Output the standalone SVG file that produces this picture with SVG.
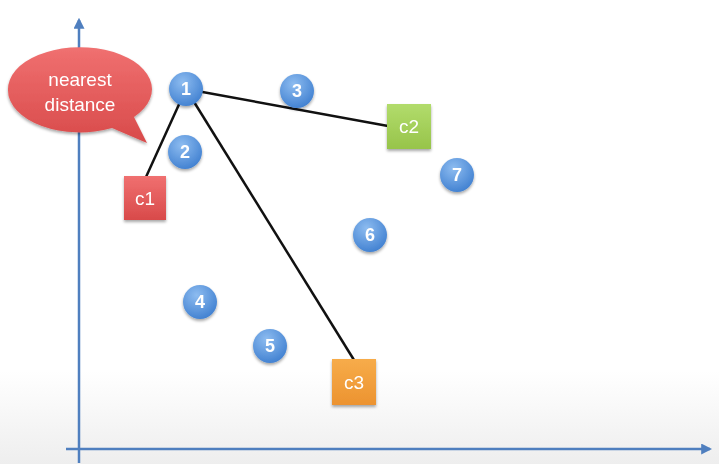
<svg xmlns="http://www.w3.org/2000/svg" width="719" height="464" viewBox="0 0 719 464">
<defs>
<linearGradient id="bg" x1="0" y1="0" x2="0" y2="1">
<stop offset="0.8" stop-color="#ffffff"/>
<stop offset="1" stop-color="#eeeeee"/>
</linearGradient>
<radialGradient id="ball" cx="0.4" cy="0.3" r="0.75">
<stop offset="0" stop-color="#8dbcf0"/>
<stop offset="1" stop-color="#3f7fd0"/>
</radialGradient>
<linearGradient id="red" x1="0" y1="0" x2="0" y2="1">
<stop offset="0" stop-color="#f07070"/>
<stop offset="1" stop-color="#d84a4a"/>
</linearGradient>
<linearGradient id="green" x1="0" y1="0" x2="0" y2="1">
<stop offset="0" stop-color="#b2dc6c"/>
<stop offset="1" stop-color="#97c44a"/>
</linearGradient>
<linearGradient id="orange" x1="0" y1="0" x2="0" y2="1">
<stop offset="0" stop-color="#f7ac4a"/>
<stop offset="1" stop-color="#ec9330"/>
</linearGradient>
<filter id="sh" x="-30%" y="-30%" width="160%" height="160%">
<feGaussianBlur in="SourceAlpha" stdDeviation="1.5"/>
<feOffset dx="0" dy="2" result="b"/>
<feComponentTransfer><feFuncA type="linear" slope="0.35"/></feComponentTransfer>
<feMerge><feMergeNode/><feMergeNode in="SourceGraphic"/></feMerge>
</filter>
<marker id="arr" viewBox="0 0 10 10" refX="8" refY="5" markerWidth="4.4" markerHeight="4.4" orient="auto">
<path d="M0,0 L10,5 L0,10 Z" fill="#4f7fbf"/>
</marker>
</defs>
<style>
.axis{stroke:#4f7fbf;stroke-width:2.5;fill:none}
.conn{stroke:#111;stroke-width:2.5;fill:none}
.num{font-family:"Liberation Sans",Arial,sans-serif;font-size:18px;font-weight:bold;fill:#fff;text-anchor:middle}
.lbl{font-family:"Liberation Sans",Arial,sans-serif;font-size:19px;fill:#fff;text-anchor:middle}
</style>
<rect width="719" height="464" fill="url(#bg)"/>
<g id="axes">
<line class="axis" x1="79" y1="463" x2="79" y2="20" marker-end="url(#arr)"/>
<line class="axis" x1="66" y1="449" x2="710" y2="449" marker-end="url(#arr)"/>
</g>
<g id="callout" filter="url(#sh)">
<path d="M8,90 A72,42 0 1 1 134,117 L147,143 L112,128 A72,42 0 0 1 8,90 Z" fill="url(#red)"/>
<text class="lbl" x="80" y="86">nearest</text>
<text class="lbl" x="80" y="111">distance</text>
</g>
<g id="connectors">
<line class="conn" x1="186" y1="89" x2="388" y2="126"/>
<line class="conn" x1="186" y1="89" x2="146" y2="177"/>
<line class="conn" x1="186" y1="89" x2="354" y2="360"/>
</g>
<g id="c1" filter="url(#sh)">
<rect x="124" y="176" width="42" height="44" fill="url(#red)"/>
<text class="lbl" x="145" y="205">c1</text>
</g>
<g id="c2" filter="url(#sh)">
<rect x="387" y="104" width="44" height="45" fill="url(#green)"/>
<text class="lbl" x="409" y="133">c2</text>
</g>
<g id="c3" filter="url(#sh)">
<rect x="332" y="359" width="44" height="46" fill="url(#orange)"/>
<text class="lbl" x="354" y="389">c3</text>
</g>
<g id="n1" filter="url(#sh)"><circle cx="186" cy="89" r="17" fill="url(#ball)"/><text class="num" x="186" y="95">1</text></g>
<g id="n2" filter="url(#sh)"><circle cx="185" cy="152" r="17" fill="url(#ball)"/><text class="num" x="185" y="158">2</text></g>
<g id="n3" filter="url(#sh)"><circle cx="297" cy="91" r="17" fill="url(#ball)"/><text class="num" x="297" y="97">3</text></g>
<g id="n4" filter="url(#sh)"><circle cx="200" cy="302" r="17" fill="url(#ball)"/><text class="num" x="200" y="308">4</text></g>
<g id="n5" filter="url(#sh)"><circle cx="270" cy="346" r="17" fill="url(#ball)"/><text class="num" x="270" y="352">5</text></g>
<g id="n6" filter="url(#sh)"><circle cx="370" cy="235" r="17" fill="url(#ball)"/><text class="num" x="370" y="241">6</text></g>
<g id="n7" filter="url(#sh)"><circle cx="457" cy="175" r="17" fill="url(#ball)"/><text class="num" x="457" y="181">7</text></g>
</svg>
